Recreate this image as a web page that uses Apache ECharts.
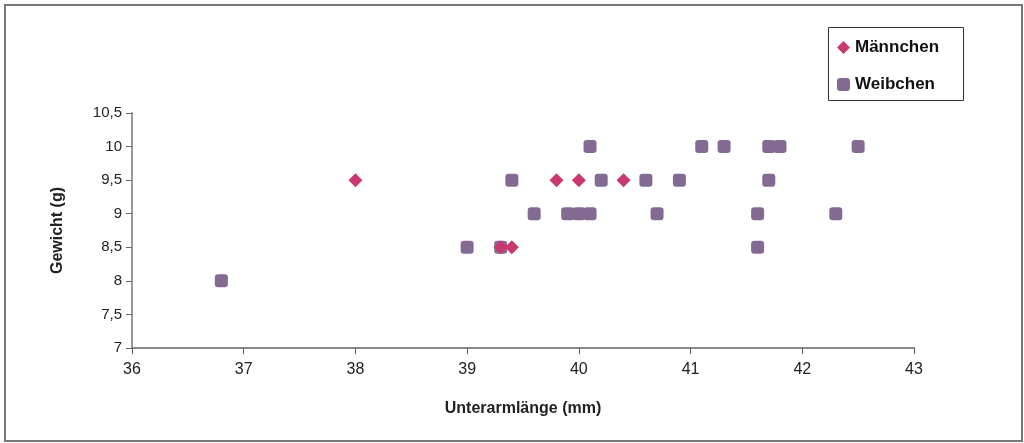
<!DOCTYPE html>
<html>
<head>
<meta charset="utf-8">
<script src="https://cdn.jsdelivr.net/npm/echarts@6/dist/echarts.min.js"></script>
<style>
    html, body { margin: 0; padding: 0; background: #fff; }
    #main { width: 1024px; height: 443px; }
</style>
</head>
<body>
<div id="main"></div>
<script>
// Männchen: [Unterarmlänge, Gewicht]
var maennchenX = [38.0, 39.3, 39.4, 39.8, 40.0, 40.4];
var maennchenY = [9.5, 8.5, 8.5, 9.5, 9.5, 9.5];

// Weibchen
var weibchenX = [36.8, 39.0, 39.3, 39.4, 39.6, 39.9, 40.0, 40.1, 40.1, 40.2, 40.6, 40.7, 40.9, 41.1, 41.3, 41.7, 41.8, 41.7, 41.6, 41.6, 42.3, 42.5];
var weibchenY = [8.0, 8.5, 8.5, 9.5, 9.0, 9.0, 9.0, 9.0, 10.0, 9.5, 9.5, 9.0, 9.5, 10.0, 10.0, 10.0, 10.0, 9.5, 9.0, 8.5, 9.0, 10.0];

var seriesNames = ['Männchen', 'Weibchen'];

var pairs = function (xs, ys) {
    var out = [];
    for (var i = 0; i < xs.length; i++) {
        out.push([xs[i], ys[i]]);
    }
    return out;
};

var myChart = echarts.init(document.getElementById('main'));

var labelFont = 'Liberation Sans, Arial, sans-serif';

var option = {
    backgroundColor: '#fff',
    animation: false,
    textStyle: { fontFamily: labelFont },
    graphic: [
        {
            type: 'rect',
            shape: { x: 5, y: 5, width: 1017, height: 436 },
            style: { fill: 'none', stroke: '#777', lineWidth: 2 },
            silent: true
        },
        {
            type: 'rect',
            shape: { x: 828.5, y: 27.5, width: 135, height: 73 },
            style: { fill: '#fff', stroke: '#333', lineWidth: 1 },
            z: -1,
            silent: true
        }
    ],
    grid: {
        left: 132,
        right: 110,
        top: 113,
        bottom: 95
    },
    legend: {
        orient: 'vertical',
        left: 832,
        top: 34,
        itemWidth: 13,
        itemHeight: 13,
        itemGap: 20,
        data: seriesNames,
        textStyle: {
            fontFamily: labelFont,
            fontWeight: 'bold',
            fontSize: 17,
            color: '#111'
        }
    },
    xAxis: {
        type: 'value',
        min: 36,
        max: 43,
        interval: 1,
        name: 'Unterarmlänge (mm)',
        nameLocation: 'middle',
        nameGap: 53,
        nameTextStyle: {
            fontFamily: labelFont,
            fontWeight: 'bold',
            fontSize: 16,
            color: '#222'
        },
        splitLine: { show: false },
        axisLine: { lineStyle: { color: '#888', width: 2 } },
        axisTick: { lineStyle: { color: '#555' }, length: 6 },
        axisLabel: {
            margin: 14,
            fontSize: 16,
            color: '#222'
        }
    },
    yAxis: {
        type: 'value',
        min: 7,
        max: 10.5,
        interval: 0.5,
        name: 'Gewicht (g)',
        nameLocation: 'middle',
        nameGap: 66,
        nameTextStyle: {
            fontFamily: labelFont,
            fontWeight: 'bold',
            fontSize: 16,
            color: '#222'
        },
        splitLine: { show: false },
        axisLine: { show: true, lineStyle: { color: '#999', width: 2 } },
        axisTick: { show: true, lineStyle: { color: '#666' }, length: 6 },
        axisLabel: {
            margin: 10,
            fontSize: 15,
            color: '#222',
            formatter: function (v) {
                return String(v).replace('.', ',');
            }
        }
    },
    series: [
        {
            name: seriesNames[0],
            type: 'scatter',
            symbol: 'diamond',
            symbolSize: 14,
            itemStyle: { color: '#c9386f', opacity: 1 },
            data: pairs(maennchenX, maennchenY),
            z: 3
        },
        {
            name: seriesNames[1],
            type: 'scatter',
            symbol: 'roundRect',
            symbolSize: 13,
            itemStyle: { color: '#836a92', opacity: 1 },
            data: pairs(weibchenX, weibchenY),
            z: 2
        }
    ]
};

myChart.setOption(option);
</script>
</body>
</html>
